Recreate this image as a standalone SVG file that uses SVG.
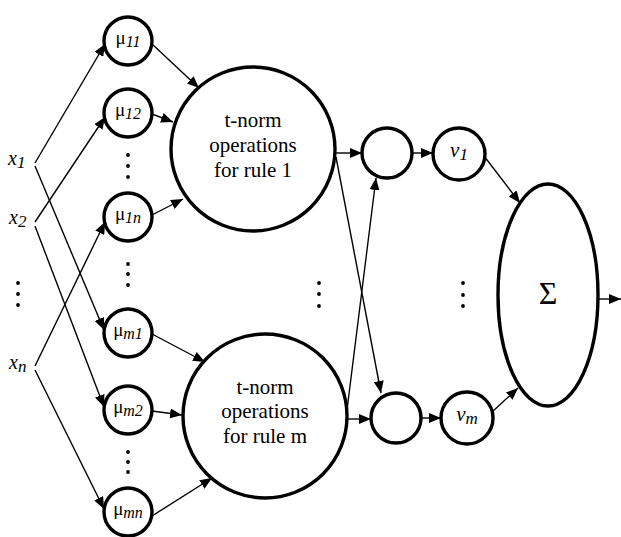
<svg xmlns="http://www.w3.org/2000/svg" width="621" height="537" viewBox="0 0 621 537">
<defs>
<style>
.node{fill:#fff;stroke:#000;stroke-width:3.4}
.edge{fill:none;stroke:#000;stroke-width:1.4;marker-end:url(#ah)}
.dot{fill:#000}
</style>
<marker id="ah" markerWidth="12" markerHeight="10" refX="12" refY="5" orient="auto" markerUnits="userSpaceOnUse">
<path d="M0,0 L12,5 L0,10 z" fill="#000"/>
</marker>
</defs>
<rect width="621" height="537" fill="#fff"/>
<g id="connectors">
<line class="edge" x1="35" y1="163" x2="105" y2="44"/>
<line class="edge" x1="35" y1="166" x2="104" y2="330"/>
<line class="edge" x1="35" y1="222" x2="105" y2="117"/>
<line class="edge" x1="35" y1="226" x2="104" y2="407"/>
<line class="edge" x1="35" y1="366" x2="105" y2="222"/>
<line class="edge" x1="35" y1="370" x2="104" y2="509"/>
<line class="edge" x1="152" y1="44" x2="199" y2="88"/>
<line class="edge" x1="152" y1="114" x2="173" y2="122"/>
<line class="edge" x1="152" y1="215" x2="183" y2="199"/>
<line class="edge" x1="152" y1="334" x2="205" y2="362"/>
<line class="edge" x1="152" y1="411" x2="182" y2="415"/>
<line class="edge" x1="152" y1="516" x2="212" y2="478"/>
<line class="edge" x1="335" y1="153" x2="362" y2="153"/>
<line class="edge" x1="336" y1="157" x2="381" y2="393"/>
<line class="edge" x1="347" y1="410" x2="376" y2="178"/>
<line class="edge" x1="347" y1="419" x2="371" y2="419"/>
<line class="edge" x1="412" y1="153" x2="433" y2="153"/>
<line class="edge" x1="421" y1="418" x2="441" y2="418"/>
<line class="edge" x1="484" y1="156" x2="520" y2="203"/>
<line class="edge" x1="492" y1="412" x2="518" y2="388"/>
<line class="edge" x1="598" y1="299" x2="621" y2="299"/>
</g>
<g font-family="Liberation Serif, serif" fill="#000">
<g id="inputs" font-size="20" font-style="italic">
<text x="8" y="165">x<tspan font-size="17" dy="3">1</tspan></text>
<text x="9" y="224">x<tspan font-size="17" dy="3">2</tspan></text>
<text x="9" y="369">x<tspan font-size="17" dy="3">n</tspan></text>
<circle class="dot" cx="18" cy="283" r="1.9"/>
<circle class="dot" cx="18" cy="294" r="1.9"/>
<circle class="dot" cx="18" cy="305" r="1.9"/>
</g>
<g id="mu11"><circle class="node" cx="128" cy="41" r="24"/><text x="128" y="44" font-size="19" text-anchor="middle">μ<tspan font-size="16" font-style="italic" dy="3">11</tspan></text></g>
<g id="mu12"><circle class="node" cx="128" cy="113" r="24"/><text x="128" y="116" font-size="19" text-anchor="middle">μ<tspan font-size="16" font-style="italic" dy="3">12</tspan></text></g>
<g id="mu1n"><circle class="node" cx="128" cy="217" r="24"/><text x="128" y="220" font-size="19" text-anchor="middle">μ<tspan font-size="16" font-style="italic" dy="3">1n</tspan></text></g>
<g id="mum1"><circle class="node" cx="128" cy="333" r="24"/><text x="128" y="336" font-size="19" text-anchor="middle">μ<tspan font-size="16" font-style="italic" dy="3">m1</tspan></text></g>
<g id="mum2"><circle class="node" cx="128" cy="410" r="24"/><text x="128" y="413" font-size="19" text-anchor="middle">μ<tspan font-size="16" font-style="italic" dy="3">m2</tspan></text></g>
<g id="mumn"><circle class="node" cx="128" cy="512" r="24"/><text x="128" y="515" font-size="19" text-anchor="middle">μ<tspan font-size="16" font-style="italic" dy="3">mn</tspan></text></g>
<g id="dots">
<circle class="dot" cx="128" cy="155" r="1.9"/><circle class="dot" cx="128" cy="166" r="1.9"/><circle class="dot" cx="128" cy="177" r="1.9"/>
<circle class="dot" cx="128" cy="264" r="1.9"/><circle class="dot" cx="128" cy="274" r="1.9"/><circle class="dot" cx="128" cy="285" r="1.9"/>
<circle class="dot" cx="128" cy="452" r="1.9"/><circle class="dot" cx="128" cy="462" r="1.9"/><circle class="dot" cx="128" cy="472" r="1.9"/>
<circle class="dot" cx="319" cy="283" r="1.9"/><circle class="dot" cx="319" cy="294" r="1.9"/><circle class="dot" cx="319" cy="306" r="1.9"/>
<circle class="dot" cx="463" cy="283" r="1.9"/><circle class="dot" cx="463" cy="295" r="1.9"/><circle class="dot" cx="463" cy="306" r="1.9"/>
</g>
<g id="rule1" font-size="21" text-anchor="middle"><circle class="node" cx="253" cy="149" r="82"/>
<text x="253" y="127">t-norm</text><text x="253" y="152">operations</text><text x="253" y="177">for rule 1</text></g>
<g id="rulem" font-size="21" text-anchor="middle"><circle class="node" cx="265" cy="416" r="82"/>
<text x="265" y="394">t-norm</text><text x="265" y="418">operations</text><text x="265" y="443">for rule m</text></g>
<g id="n1"><circle class="node" cx="387" cy="153" r="25"/></g>
<g id="n2"><circle class="node" cx="396" cy="418" r="25"/></g>
<g id="v1"><circle class="node" cx="459" cy="154" r="26"/><text x="459" y="157" font-size="21" font-style="italic" text-anchor="middle">v<tspan font-size="17" dy="3">1</tspan></text></g>
<g id="vm"><circle class="node" cx="467" cy="418" r="26"/><text x="467" y="421" font-size="21" font-style="italic" text-anchor="middle">v<tspan font-size="17" dy="3">m</tspan></text></g>
<g id="sum"><ellipse class="node" cx="548" cy="295" rx="50" ry="111"/><text x="548" y="304" font-size="32" text-anchor="middle">Σ</text></g>
</g>
</svg>
